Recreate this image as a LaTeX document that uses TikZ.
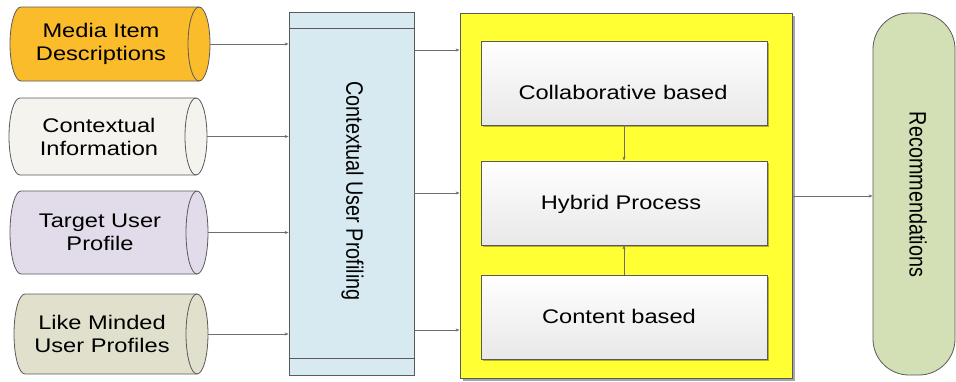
\documentclass[tikz,border=0pt]{standalone}
\usepackage{graphicx}
\usepackage{fontspec}
\setmainfont{Liberation Sans}
\newfontfamily\widefont{Liberation Sans}[FakeStretch=1.2]
\usetikzlibrary{arrows.meta,shadows}
\definecolor{cOrange}{HTML}{FBBC2C}
\definecolor{cCream}{HTML}{F4F3EE}
\definecolor{cLav}{HTML}{E2DCEA}
\definecolor{cKhaki}{HTML}{E1E0CC}
\definecolor{cBlue}{HTML}{D7EAF2}
\definecolor{cYellow}{HTML}{FFFF33}
\definecolor{cGreen}{HTML}{D3DFB5}
\definecolor{cLine}{HTML}{5A5A5A}
\definecolor{cArr}{HTML}{6E6E6E}
\tikzset{
  cylstyle/.style={draw=cLine, line width=0.8pt},
  cyltext/.style={font=\widefont\fontsize{19.7}{23}\selectfont, align=center, inner sep=0pt},
  boxline/.style={draw=cLine, line width=0.8pt},
  innerbox/.style={draw=cLine, line width=0.8pt, top color=white, bottom color=black!9,
    minimum width=286pt, minimum height=84pt, inner sep=0pt,
    drop shadow={shadow xshift=2pt, shadow yshift=-2pt, opacity=0.3, fill=black}},
  boxtext/.style={font=\widefont\fontsize{19.7}{23}\selectfont, inner sep=0pt},
  rottext/.style={font=\fontsize{19.8}{23}\selectfont, inner sep=0pt, rotate=-90},
  arr/.style={draw=cArr, line width=0.7pt, -{Stealth[length=4pt,width=3pt]}},
}
\newcommand\cylbox[7]{%
  \pgfmathsetmacro\cyR{(#5-#3)/2}%
  \pgfmathsetmacro\cyM{(#3+#5)/2}%
  \filldraw[cylstyle, fill=#6] (#2+11,-#3) -- (#4-11,-#3)
     arc[start angle=90, end angle=-90, x radius=11pt, y radius=\cyR pt]
     -- (#2+11,-#5)
     arc[start angle=270, end angle=90, x radius=11pt, y radius=\cyR pt] -- cycle;
  \draw[cylstyle] (#4-11,-#3) arc[start angle=90, end angle=270, x radius=11pt, y radius=\cyR pt];
  \node[cyltext] (#1) at ({(#2+#4)/2-9},-\cyM) {#7};
  \coordinate (#1e) at (#4,-\cyM);
}
\begin{document}
\begin{tikzpicture}[x=1pt,y=1pt]
\useasboundingbox (0,0) rectangle (956,-381);

\cylbox{c1}{10}{7}{210}{81}{cOrange}{Media Item\\Descriptions}
\cylbox{c2}{9}{98}{207}{175}{cCream}{Contextual\\Information}
\cylbox{c3}{10}{191}{208}{274}{cLav}{Target User\\Profile}
\cylbox{c4}{14}{294}{208}{374}{cKhaki}{Like Minded\\User Profiles}

% Contextual User Profiling
\node[boxline, fill=cBlue, minimum width=125pt, minimum height=363pt, inner sep=0pt] (cup) at (351.5,-193.5) {};
\draw[boxline] ([yshift=-17pt]cup.north west) -- ([yshift=-17pt]cup.north east);
\draw[boxline] ([yshift=17pt]cup.south west) -- ([yshift=17pt]cup.south east);
\node[rottext] (cupt) at (352.5,-191) {\scalebox{1}[1.2]{Contextual User Profiling}};

% Yellow container
\node[boxline, fill=cYellow, minimum width=332pt, minimum height=365pt, inner sep=0pt,
  drop shadow={shadow xshift=2.5pt, shadow yshift=-2.5pt, opacity=0.35, fill=black}] (hyb) at (626,-195.5) {};
\node[innerbox] (cb) at (624,-83) {};
\node[boxtext] (cbt) at (623,-92) {Collaborative based};
\node[innerbox] (hp) at (624,-203) {};
\node[boxtext] (hpt) at (621,-204.5) {Hybrid Process};
\node[innerbox] (ct) at (624,-317) {};
\node[boxtext] (ctt) at (619,-316) {Content based};

% Recommendations
\node[boxline, fill=cGreen, rounded corners=36pt, minimum width=82pt, minimum height=362pt, inner sep=0pt] (rec) at (914,-194) {};
\node[rottext] (rect) at (918,-194.5) {\scalebox{1}[1.2]{Recommendations}};

% connectors
\draw[arr] (c1e) -- (c1e -| cup.west);
\draw[arr] (c2e) -- (c2e -| cup.west);
\draw[arr] (c3e) -- (c3e -| cup.west);
\draw[arr] (c4e) -- (c4e -| cup.west);

\coordinate (o1) at (cup.east |- 0,-50);
\coordinate (o2) at (cup.east |- 0,-193);
\coordinate (o3) at (cup.east |- 0,-330);
\draw[arr] (o1) -- (o1 -| hyb.west);
\draw[arr] (o2) -- (o2 -| hyb.west);
\draw[arr] (o3) -- (o3 -| hyb.west);

\draw[arr] (cb.south) -- (hp.north);
\draw[arr] (ct.north) -- (hp.south);

\coordinate (o4) at (hyb.east |- 0,-196);
\draw[arr] (o4) -- (o4 -| rec.west);
\end{tikzpicture}
\end{document}
